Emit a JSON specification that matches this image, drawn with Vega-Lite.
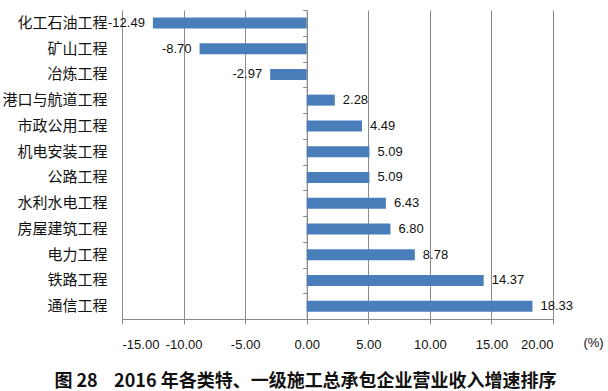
{
  "$schema": "https://vega.github.io/schema/vega-lite/v6.json",
  "width": 431,
  "height": 309,
  "autosize": "none",
  "padding": {"left": 122, "top": 10, "right": 55, "bottom": 72},
  "background": "white",
  "config": {
    "view": {"stroke": null},
    "locale": {"number": {"decimal": ".", "thousands": ",", "grouping": [3], "currency": ["", ""], "minus": "-"}}
  },
  "title": {
    "text": "图 28\u00a0\u00a0\u00a0\u00a02016 年各类特、一级施工总承包企业营业收入增速排序",
    "orient": "bottom",
    "anchor": "middle",
    "font": "Noto Sans CJK SC",
    "fontSize": 18,
    "fontWeight": "bold",
    "color": "#111111",
    "offset": 22,
    "dx": -32
  },
  "data": {
    "values": [
      {"category": "化工石油工程", "value": -12.49},
      {"category": "矿山工程", "value": -8.70},
      {"category": "冶炼工程", "value": -2.97},
      {"category": "港口与航道工程", "value": 2.28},
      {"category": "市政公用工程", "value": 4.49},
      {"category": "机电安装工程", "value": 5.09},
      {"category": "公路工程", "value": 5.09},
      {"category": "水利水电工程", "value": 6.43},
      {"category": "房屋建筑工程", "value": 6.80},
      {"category": "电力工程", "value": 8.78},
      {"category": "铁路工程", "value": 14.37},
      {"category": "通信工程", "value": 18.33}
    ]
  },
  "resolve": {"axis": {"y": "independent"}},
  "layer": [
    {
      "mark": {"type": "bar", "color": "#4A7EBB", "size": 11},
      "encoding": {
        "y": {
          "field": "category", "type": "nominal", "sort": null,
          "scale": {"paddingInner": 0, "paddingOuter": 0},
          "axis": {
            "title": null, "orient": "left", "domain": false, "ticks": false,
            "labelPadding": 15, "labelFont": "Noto Sans CJK SC", "labelFontSize": 15,
            "labelColor": "#111111"
          }
        },
        "x": {
          "field": "value", "type": "quantitative",
          "scale": {"domain": [-15, 20], "nice": false, "zero": false},
          "axis": {
            "values": [-15, -10, -5, 0, 5, 10, 15, 20],
            "format": ".2f",
            "grid": true, "gridColor": "#8a8a8a", "gridWidth": 1,
            "domainColor": "#8a8a8a", "tickColor": "#8a8a8a", "tickSize": 5,
            "labelFont": "Liberation Sans", "labelFontSize": 13, "labelColor": "#111111",
            "labelPadding": 14,
            "title": "(%)", "titleX": 471, "titleY": 23, "titleAlign": "center",
            "titleBaseline": "middle", "titleFont": "Liberation Sans",
            "titleFontSize": 13, "titleFontWeight": "normal", "titleColor": "#111111"
          }
        }
      }
    },
    {
      "transform": [{"filter": "datum.value >= 0"}],
      "mark": {"type": "text", "font": "Liberation Sans", "fontSize": 13, "color": "#111111", "baseline": "middle", "align": "left", "dx": 8},
      "encoding": {
        "y": {
          "field": "category", "type": "nominal", "sort": null,
          "axis": {
            "title": null, "orient": "left", "offset": -184.7, "labels": false,
            "domain": true, "domainColor": "#8a8a8a", "ticks": true, "tickColor": "#8a8a8a",
            "tickSize": 4, "tickBand": "extent", "grid": false
          }
        },
        "x": {"field": "value", "type": "quantitative"},
        "text": {"field": "value", "type": "quantitative", "format": ".2f"}
      }
    },
    {
      "transform": [{"filter": "datum.value < 0"}],
      "mark": {"type": "text", "font": "Liberation Sans", "fontSize": 13, "color": "#111111", "baseline": "middle", "align": "right", "dx": -8},
      "encoding": {
        "y": {"field": "category", "type": "nominal", "sort": null, "axis": null},
        "x": {"field": "value", "type": "quantitative"},
        "text": {"field": "value", "type": "quantitative", "format": ".2f"}
      }
    }
  ]
}
